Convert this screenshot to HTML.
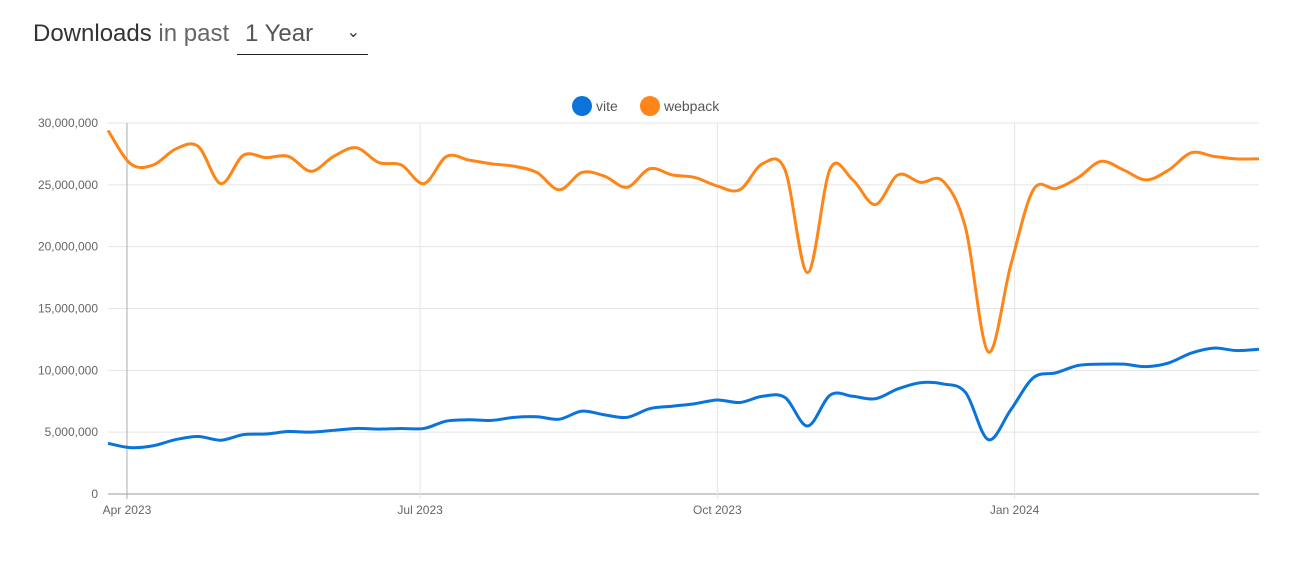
<!DOCTYPE html>
<html><head><meta charset="utf-8">
<style>
body{margin:0;background:#fff;width:1315px;height:571px;overflow:hidden;font-family:"Liberation Sans",sans-serif;}
#hdr{position:absolute;left:33px;top:20px;font-size:24px;color:#333;white-space:nowrap}
#hdr .muted{color:#666;font-weight:300}
#sel{position:absolute;left:237px;top:20px;width:131px;height:34px;border-bottom:1px solid #222;font-size:24px;color:#555}
#sel span{position:absolute;left:8px;top:0}
#sel i{position:absolute;right:8px;top:2px;font-style:normal;font-size:16px;color:#333}
svg{position:absolute;left:0;top:0}
</style></head><body>
<div id="hdr">Downloads <span class="muted">in past</span></div>
<div id="sel"><span>1 Year</span><i>⌄</i></div>
<svg id="chart" width="1315" height="571"></svg>
<script>
const viteValues=[4.1,3.75,3.9,4.4,4.65,4.35,4.8,4.85,5.05,5.0,5.15,5.3,5.25,5.3,5.3,5.9,6.0,5.95,6.2,6.25,6.05,6.7,6.4,6.2,6.9,7.1,7.3,7.6,7.4,7.9,7.8,5.5,8.0,7.9,7.7,8.5,9.0,8.9,8.2,4.4,6.8,9.4,9.8,10.4,10.5,10.5,10.3,10.6,11.4,11.8,11.6,11.7];
const webpackValues=[29.4,26.7,26.6,27.9,28.1,25.1,27.4,27.2,27.3,26.1,27.3,28.0,26.8,26.6,25.1,27.3,27.0,26.7,26.5,26.0,24.6,26.0,25.7,24.8,26.3,25.8,25.6,24.9,24.6,26.7,26.2,17.9,26.3,25.4,23.4,25.8,25.2,25.3,21.5,11.5,18.5,24.6,24.7,25.6,26.9,26.2,25.4,26.2,27.6,27.3,27.1,27.1];
const yTicks=[0,5,10,15,20,25,30];
const yTickLabels=["0","5,000,000","10,000,000","15,000,000","20,000,000","25,000,000","30,000,000"];
const xTickLabels=["Apr 2023","Jul 2023","Oct 2023","Jan 2024"];
const xTickWeeks=[0.84,13.83,27.0,40.17];
const seriesNames=["vite","webpack"];

const NS="http://www.w3.org/2000/svg";
const svg=document.getElementById('chart');
const X0=108,X1=1259,Y0=494,Y1=123;
const nPts=webpackValues.length;
const xs=i=>X0+i*(X1-X0)/(nPts-1);
const ys=v=>Y0-(v/30)*(Y0-Y1);
function mk(t,a){const e=document.createElementNS(NS,t);for(const k in a)e.setAttribute(k,a[k]);svg.appendChild(e);return e;}
yTicks.forEach((t,i)=>{
  const g=mk('line',{x1:X0,x2:X1,y1:ys(t),y2:ys(t),stroke:i==0?'#999':'#e5e5e5','stroke-width':1});
  
  
  const l=mk('text',{x:98,y:ys(t)+4,'text-anchor':'end','font-size':12,fill:'#666'});
  l.textContent=yTickLabels[i];
  
  
});
xTickLabels.forEach((lab,i)=>{
  const x=xs(xTickWeeks[i]);
  const g=mk('line',{x1:x,x2:x,y1:Y1,y2:Y0+5,stroke:i==0?'#aaa':'#e5e5e5','stroke-width':1});
  
  
  const t=mk('text',{x:x,y:514,'text-anchor':'middle','font-size':12,fill:'#666'});
  t.textContent=lab;
  
  
});
function path(vals){
  const p=vals.map((v,i)=>[xs(i),ys(v)]);
  let d=`M${p[0][0]},${p[0][1]}`;
  for(let i=0;i<p.length-1;i++){
    const a=p[Math.max(0,i-1)],b=p[i],c=p[i+1],e=p[Math.min(p.length-1,i+2)];
    const c1=[b[0]+(c[0]-a[0])/6,b[1]+(c[1]-a[1])/6],c2=[c[0]-(e[0]-b[0])/6,c[1]-(e[1]-b[1])/6];
    d+=` C${c1[0]},${c1[1]} ${c2[0]},${c2[1]} ${c[0]},${c[1]}`;
  }
  return d;
}
const wl=mk('path',{d:path(webpackValues),fill:'none',stroke:'#ff8518','stroke-width':3});


const vl=mk('path',{d:path(viteValues),fill:'none',stroke:'#0a74da','stroke-width':3});


const legX=[582,650],legC=['#0a74da','#ff8518'];
seriesNames.forEach((n,i)=>{
  const c=mk('circle',{cx:legX[i],cy:106,r:10,fill:legC[i]});
  
  
  const t=mk('text',{x:legX[i]+14,y:111,'font-size':14,fill:'#555'});
  t.textContent=n;
  
  
});
</script>
</body></html>
